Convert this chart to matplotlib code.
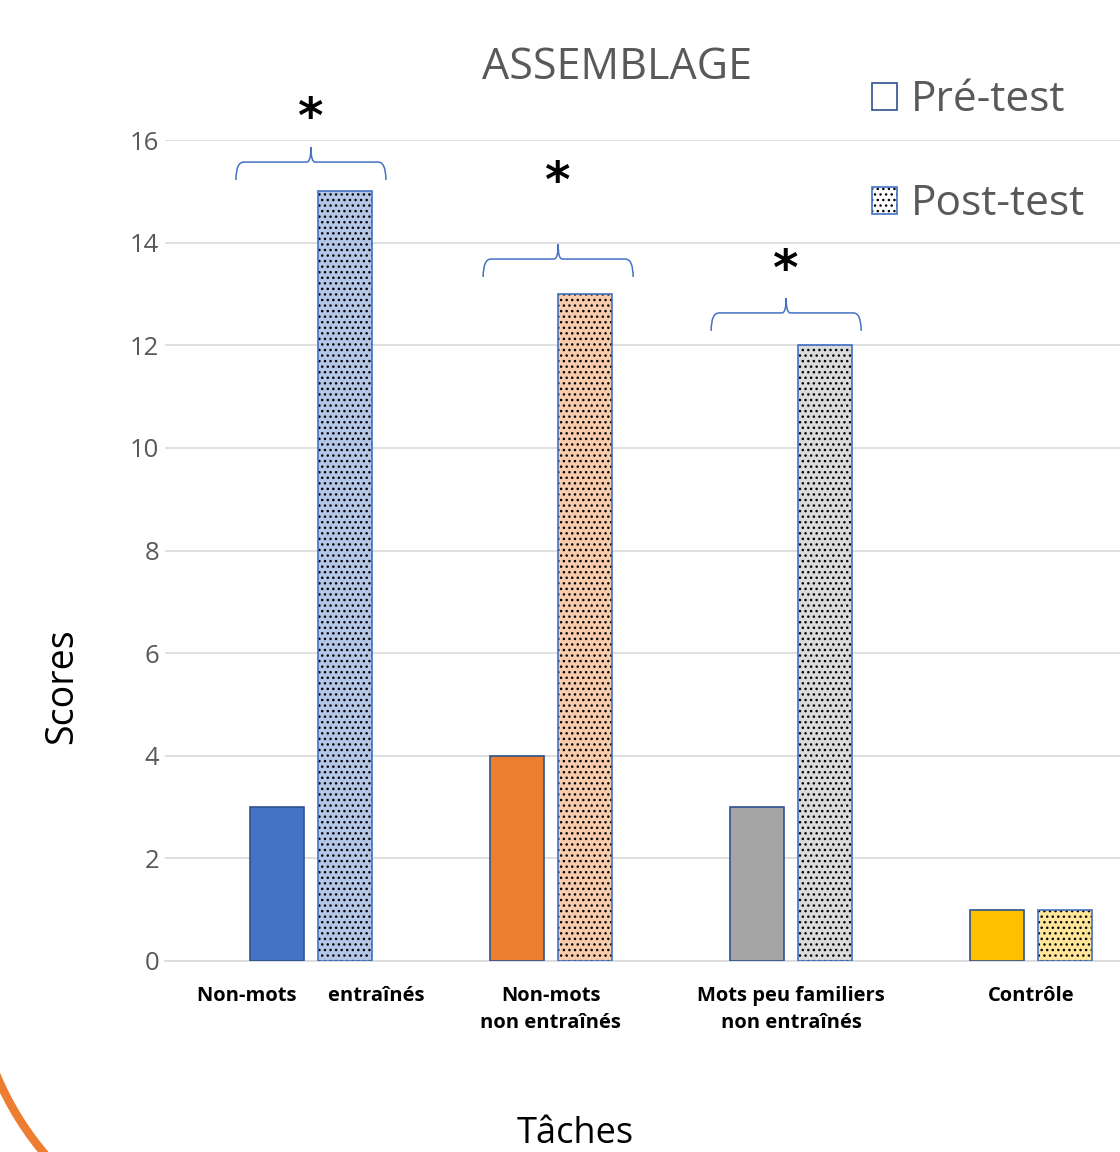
import matplotlib
matplotlib.use("Agg")
import numpy as np
import matplotlib.pyplot as plt
from matplotlib.patches import Patch, PathPatch
from matplotlib.path import Path

plt.rcParams["font.family"] = ["Open Sans", "DejaVu Sans"]

# ------------------------------------------------------------
# Data
# ------------------------------------------------------------
categories = ["Non-mots      entraînés", "Non-mots\nnon entraînés",
              "Mots peu familiers\nnon entraînés", "Contrôle"]
pre_test = [3, 4, 3, 1]
post_test = [15, 13, 12, 1]

pre_colors = ["#4472C4", "#ED7D31", "#A5A5A5", "#FFC000"]
post_colors = ["#B4C7E7", "#F8CBAD", "#DBDBDB", "#FFE699"]

# significance marks (group index, brace base, star height)
sig_groups = [0, 1, 2]
brace_shift = [0.0, 0.03, -0.02]
brace_base = [15.22, 13.33, 12.28]
star_y = [16.40, 15.17, 13.44]

# ------------------------------------------------------------
# Figure
# ------------------------------------------------------------
fig = plt.figure(figsize=(11.2, 11.52), dpi=100, facecolor="white")
ax = fig.add_axes([165 / 1120, 1 - 961 / 1152, 1 - 165 / 1120, (961 - 140) / 1152])

x = np.arange(len(categories))
w = 0.225
off = 0.143

ax.bar(x - off, pre_test, w, color=pre_colors, edgecolor="#2F528F", linewidth=1.2, zorder=3)
# dotted post-test bars: hatch layer + outline layer
ax.bar(x + off, post_test, w, color=post_colors, edgecolor="black", linewidth=0,
       hatch="...", zorder=3)
ax.bar(x + off, post_test, w, fill=False, edgecolor="#4472C4", linewidth=1.2, zorder=4)

ax.set_xlim(-0.608, 3.371)
ax.set_ylim(0, 16)
ax.set_yticks(np.arange(0, 17, 2))
ax.yaxis.grid(True, color="#D9D9D9", linewidth=1.2)
ax.set_axisbelow(True)
for s in ["top", "right", "left"]:
    ax.spines[s].set_visible(False)
ax.spines["bottom"].set_color("#D9D9D9")
ax.spines["bottom"].set_linewidth(1.2)
ax.tick_params(axis="both", length=0)
ax.tick_params(axis="y", labelsize=18.5, labelcolor="#595959", pad=4)
ax.set_xticks(x)
ax.set_xticklabels(categories, fontsize=14.5, fontweight="bold", linespacing=1.45)
ax.tick_params(axis="x", pad=18)

ax.set_ylabel("Scores", fontsize=27)
ax.yaxis.set_label_coords(-0.108, 0.335)
ax.yaxis.label.set_va("center")
ax.set_xlabel("Tâches", fontsize=26)
ax.xaxis.set_label_coords(0.429, -0.211)
ax.xaxis.label.set_va("center")
ax.set_title("ASSEMBLAGE", fontsize=31, color="#595959", x=0.473, y=1.0, pad=44)


# curly braces
def brace(ax, xc, yb, half=0.3125, h1=0.35, h2=0.29, r1=0.033, r2=0.017):
    yl = yb + h1
    yp = yl + h2
    x0, x1 = xc - half, xc + half
    verts = [(x0, yb), (x0, yl), (x0 + r1, yl),
             (xc - r2, yl), (xc, yl), (xc, yp),
             (xc, yl), (xc + r2, yl),
             (x1 - r1, yl), (x1, yl), (x1, yb)]
    codes = [Path.MOVETO, Path.CURVE3, Path.CURVE3,
             Path.LINETO, Path.CURVE3, Path.CURVE3,
             Path.CURVE3, Path.CURVE3,
             Path.LINETO, Path.CURVE3, Path.CURVE3]
    ax.add_patch(PathPatch(Path(verts, codes), fill=False, edgecolor="#4472C4",
                           linewidth=1.1, clip_on=False, zorder=5))


for g, sh, yb, ys in zip(sig_groups, brace_shift, brace_base, star_y):
    brace(ax, x[g] + sh, yb)
    ax.text(x[g] + sh, ys, "*", fontsize=35, fontweight="bold", ha="center", va="center",
            family="DejaVu Sans", clip_on=False)

# legend
h_pre = Patch(facecolor="white", edgecolor="#2F528F", linewidth=1.2)
h_post_dots = Patch(facecolor="white", edgecolor="black", linewidth=0, hatch="...")
h_post_edge = Patch(fill=False, edgecolor="#4472C4", linewidth=1.2)
fig.legend([h_pre, (h_post_dots, h_post_edge)], ["Pré-test", "Post-test"],
           loc="upper left", bbox_to_anchor=(872 / 1120, 1 - 79 / 1152),
           frameon=False, fontsize=30.5, labelcolor="#595959",
           handlelength=0.6, handleheight=0.6, handletextpad=0.32,
           labelspacing=1.47, borderaxespad=0, borderpad=0)

# decorative orange arc at bottom left
p0 = (-4, 1074)
pc = (16, 1122)
p1 = (50, 1160)
arc = Path([(px / 1120, 1 - py / 1152) for px, py in (p0, pc, p1)],
           [Path.MOVETO, Path.CURVE3, Path.CURVE3])
fig.add_artist(PathPatch(arc, fill=False, edgecolor="#ED7D31", linewidth=6,
                         transform=fig.transFigure))

fig.savefig("out.png", dpi=100, facecolor="white")
